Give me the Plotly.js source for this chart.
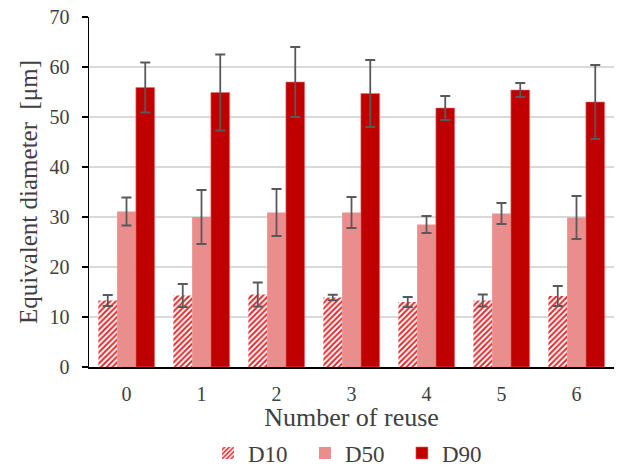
<!DOCTYPE html>
<html>
<head>
<meta charset="utf-8">
<script src="https://cdn.plot.ly/plotly-3.0.1.min.js"></script>
<style>html,body{margin:0;padding:0;background:#fff;}</style>
</head>
<body>
<div id="chart" style="width:617px;height:468px;"></div>
<script>
const categories = ["0", "1", "2", "3", "4", "5", "6"];
const d10 = [13.3, 14.3, 14.5, 13.9, 13.0, 13.3, 14.2];
const d10Err = [1.1, 2.3, 2.4, 0.55, 1.0, 1.2, 2.0];
const d50 = [31.1, 30.0, 30.9, 30.9, 28.5, 30.7, 29.9];
const d50Err = [2.8, 5.4, 4.7, 3.1, 1.7, 2.1, 4.3];
const d90 = [55.9, 54.9, 57.0, 54.7, 51.8, 55.4, 53.0];
const d90Err = [5.0, 7.6, 7.0, 6.7, 2.4, 1.4, 7.4];

const errStyle = (arr) => ({type: 'data', array: arr, visible: true, color: '#595959', thickness: 1.8, width: 5});
const font = "'Liberation Serif', 'Times New Roman', Times, serif";
const txt = '#404040';

const traces = [
  {type: 'bar', name: 'D10', x: categories, y: d10, error_y: errStyle(d10Err),
   marker: {color: '#ffffff', line: {width: 0}, pattern: {shape: '/', fgcolor: '#E8272B', bgcolor: '#ffffff', size: 4, solidity: 0.5}}},
  {type: 'bar', name: 'D50', x: categories, y: d50, error_y: errStyle(d50Err),
   marker: {color: '#EC9A9A', line: {width: 0}, pattern: {shape: '.', fgcolor: '#E06060', bgcolor: '#F2B0B0', size: 2, solidity: 0.5}}},
  {type: 'bar', name: 'D90', x: categories, y: d90, error_y: errStyle(d90Err),
   marker: {color: '#C00000', line: {width: 0.6, color: '#E87070'}}}
];

const layout = {
  width: 617, height: 468,
  margin: {l: 89, r: 3, t: 17, b: 101, autoexpand: false},
  paper_bgcolor: '#ffffff', plot_bgcolor: '#ffffff',
  barmode: 'group', bargap: 0.25, bargroupgap: 0,
  font: {family: font, color: txt, size: 19},
  showlegend: true,
  legend: {orientation: 'h', xref: 'container', yref: 'container', x: 0.337, xanchor: 'left', y: 0.032, yanchor: 'middle',
           font: {family: font, size: 23, color: txt}, itemwidth: 30, entrywidth: 52, entrywidthmode: 'pixels', tracegroupgap: 0},
  xaxis: {
    type: 'category', showgrid: false, showline: true, linecolor: '#000000', linewidth: 1.5,
    ticks: '', tickfont: {family: font, size: 20, color: txt}, ticklabelstandoff: 8, automargin: false,
    title: {text: 'Number of reuse', font: {family: font, size: 26, color: txt}, standoff: 1}
  },
  yaxis: {
    range: [0, 70], dtick: 10, showgrid: true, gridcolor: '#D9D9D9', gridwidth: 1.2,
    showline: true, linecolor: '#000000', linewidth: 1.5, ticks: 'outside', ticklen: 6, tickwidth: 1.5, tickcolor: '#000000',
    zeroline: false, tickfont: {family: font, size: 20, color: txt}, ticklabelstandoff: 8, automargin: false,
    title: {text: 'Equivalent diameter\u00a0 [μm]', font: {family: font, size: 25, color: txt}, standoff: 5}
  }
};

Plotly.newPlot('chart', traces, layout, {displayModeBar: false, staticPlot: true});
</script>
</body>
</html>
